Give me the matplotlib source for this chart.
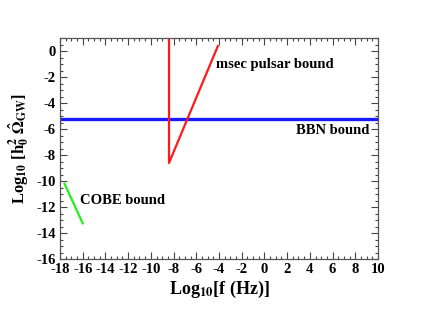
import numpy as np
import matplotlib
matplotlib.use("Agg")
import matplotlib.pyplot as plt
from matplotlib.ticker import MultipleLocator

# bounds (log10 f, log10 h0^2 Omega)
bbn_x = [-18, 10]
bbn_y = [-5.25, -5.25]
pulsar_x = [-8.4, -8.4, -4.1]
pulsar_y = [1.0, -8.6, 0.4]
cobe_x = [-17.6, -16.0]
cobe_y = [-10.2, -13.25]

plt.rcParams['font.family'] = ['Liberation Serif', 'DejaVu Serif']
plt.rcParams['font.weight'] = 'bold'
plt.rcParams['mathtext.fontset'] = 'stix'
plt.rcParams['mathtext.default'] = 'bf'
plt.rcParams['axes.unicode_minus'] = False

fig = plt.figure(figsize=(4.46, 3.26), dpi=100)
ax = fig.add_axes([0.1345, 0.2055, 0.713, 0.677])

ax.plot(bbn_x, bbn_y, color='#1a1aff', lw=2.4)
ax.plot(pulsar_x, pulsar_y, color='#ff1a1a', lw=1.6)
ax.plot(cobe_x, cobe_y, color='#22ee22', lw=1.6)

ax.text(-4.3, -1.0, "msec pulsar bound", fontsize=10.5, fontweight='bold', va='center', ha='left')
ax.text(9.2, -6.1, "BBN bound", fontsize=10.5, fontweight='bold', va='center', ha='right')
ax.text(-16.2, -11.5, "COBE bound", fontsize=10.5, fontweight='bold', va='center', ha='left')

ax.set_xlim(-18, 10)
ax.set_ylim(-16, 1)
ax.xaxis.set_major_locator(MultipleLocator(2))
ax.xaxis.set_minor_locator(MultipleLocator(0.5))
ax.yaxis.set_major_locator(MultipleLocator(2))
ax.yaxis.set_minor_locator(MultipleLocator(0.5))
ax.tick_params(which='both', direction='in', top=True, right=True, labelsize=10.5, width=0.8, color='#444444')
ax.tick_params(which='major', length=5, pad=3)
ax.tick_params(which='minor', length=2.5)
for lab in ax.get_xticklabels() + ax.get_yticklabels():
    lab.set_fontweight('bold')
for sp in ax.spines.values():
    sp.set_color('#555555')
    sp.set_linewidth(0.9)

ax.set_xlabel(r"Log$_{10}$[f (Hz)]", fontsize=13, fontweight='bold', labelpad=2)
ax.set_ylabel(r"Log$_{10}$ [h$_0^2$ $\hat{\Omega}_{GW}$]", fontsize=12, fontweight='bold', labelpad=4)

fig.savefig("out.png", dpi=100)
